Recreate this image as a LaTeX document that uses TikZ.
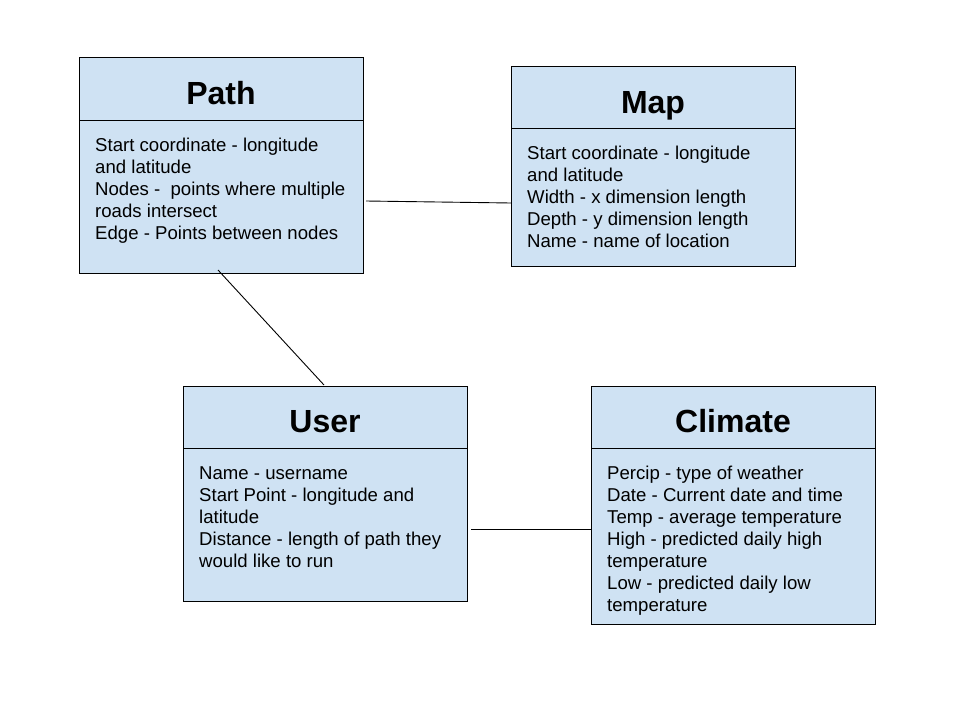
\documentclass[tikz,border=0pt]{standalone}
\usepackage{fontspec}
\setmainfont{Liberation Sans}
\definecolor{boxfill}{HTML}{CFE2F3}
\begin{document}
\begin{tikzpicture}[x=1pt,y=-1pt,
  box/.style={draw=black,line width=1pt,fill=boxfill,rectangle,anchor=north west,inner sep=0pt},
  title/.style={font=\bfseries\fontsize{32}{36}\selectfont,anchor=base,inner sep=0pt},
  body/.style={font=\fontsize{18.6}{22}\selectfont,anchor=base west,inner sep=0pt},
  conn/.style={draw=black,line width=0.9pt}]
\useasboundingbox[fill=white] (0,0) rectangle (960,720);
% Path
\node (path) [box,minimum width=284pt,minimum height=216pt] at (79,57) {};
\draw[line width=1pt] (79,120) -- (363,120);
\node (pathT) [title] at (221,104) {Path};
\foreach \t [count=\i] in {Start coordinate - longitude,and latitude,Nodes -\ \ points where multiple,roads intersect,Edge - Points between nodes}
  \node (p\i) [body] at (95,151+22*\i-22) {\t};
% Map
\node (map) [box,minimum width=284pt,minimum height=200pt] at (511,66) {};
\draw[line width=1pt] (511,128) -- (795,128);
\node (mapT) [title] at (653,113) {Map};
\foreach \t [count=\i] in {Start coordinate - longitude,and latitude,Width - x dimension length,Depth - y dimension length,Name - name of location}
  \node (m\i) [body] at (527,159+22*\i-22) {\t};
% User
\node (user) [box,minimum width=284pt,minimum height=215pt] at (183,386) {};
\draw[line width=1pt] (183,448) -- (467,448);
\node (userT) [title] at (325,432) {User};
\foreach \t [count=\i] in {Name - username,Start Point - longitude and,latitude,Distance - length of path they,would like to run}
  \node (u\i) [body] at (199,479+22*\i-22) {\t};
% Climate
\node (climate) [box,minimum width=284pt,minimum height=238pt] at (591,386) {};
\draw[line width=1pt] (591,448) -- (875,448);
\node (climT) [title] at (733,432) {Climate};
\foreach \t [count=\i] in {Percip - type of weather,Date - Current date and time,Temp - average temperature,High - predicted daily high,temperature,Low - predicted daily low,temperature}
  \node (c\i) [body] at (607,479+22*\i-22) {\t};
% connectors
\coordinate (a1) at (366,201);
\coordinate (a2) at (511,203);
\coordinate (b1) at (218,270);
\coordinate (b2) at (324,385);
\coordinate (d1) at (471,529);
\coordinate (d2) at (591,529);
\draw[conn] (a1) -- (a2);
\draw[conn] (b1) -- (b2);
\draw[conn] (d1) -- (d2);
\end{tikzpicture}
\end{document}
